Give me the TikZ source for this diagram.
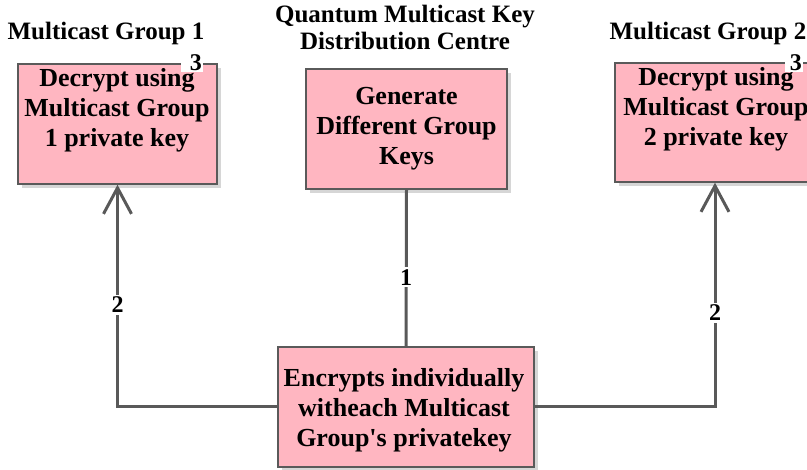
\documentclass[tikz,border=0pt]{standalone}
\usepackage{fontspec}
\newfontfamily\diagfont{Liberation Serif}
\usetikzlibrary{arrows.meta,shadows}
\definecolor{boxfill}{HTML}{FFB6C1}
\definecolor{boxline}{HTML}{5A5A5A}
\definecolor{wire}{HTML}{595959}
\tikzset{
  stagebox/.style={draw=boxline, line width=1.4pt, fill=boxfill,
    drop shadow={shadow xshift=4pt, shadow yshift=-4pt, fill=black!16, opacity=1},
    inner sep=0pt},
  boxtext/.style={font=\diagfont\fontsize{26}{30}\selectfont\bfseries, align=center, inner sep=0pt},
  titletext/.style={font=\diagfont\fontsize{25}{27}\selectfont\bfseries, align=center, inner sep=0pt},
  steplabel/.style={font=\diagfont\fontsize{24}{24}\selectfont\bfseries, fill=white, inner sep=2pt},
  wireline/.style={draw=wire, line width=3pt},
  openhead/.style={-{Straight Barb[length=26pt, width=28pt]}}
}
\begin{document}
\begin{tikzpicture}[x=1pt, y=-1pt]
\useasboundingbox (0,0) rectangle (807,470);
\clip (0,0) rectangle (807,470);

% titles
\node[titletext, anchor=base] (t1) at (106,40) {Multicast Group 1};
\node[titletext, anchor=base] (tq1) at (405,23) {Quantum Multicast Key};
\node[titletext, anchor=base] (tq2) at (405,50) {Distribution Centre};
\node[titletext, anchor=base] (t2) at (708,40) {Multicast Group 2};

% boxes
\node[stagebox, minimum width=199pt, minimum height=120pt] (g1) at (117.5,124) {};
\node[stagebox, minimum width=201pt, minimum height=120pt] (qk) at (406.5,129) {};
\node[stagebox, minimum width=200pt, minimum height=119pt] (g2) at (715,122.5) {};
\node[stagebox, minimum width=256pt, minimum height=120pt] (enc) at (406,407) {};

% box texts
\node[boxtext] (g1t) at (117,110) {Decrypt using\\Multicast Group\\1 private key};
\node[boxtext] (qkt) at (406.5,129) {Generate\\Different Group\\Keys};
\node[boxtext] (g2t) at (716,109) {Decrypt using\\Multicast Group\\2 private key};
\node[boxtext] (enct) at (404,410) {Encrypts individually\\witheach Multicast\\Group's privatekey};

% connectors
\draw[wireline] (qk.south) -- (enc.north)
  node[steplabel, pos=0.56] (l1) {1};
\draw[wireline, openhead] (enc.west) -| (g1.south)
  node[steplabel, pos=0.73] (l2a) {2};
\draw[wireline, openhead] (enc.east) -| (g2.south)
  node[steplabel, pos=0.71] (l2b) {2};

% step numbers on the decrypt boxes
\node[steplabel, anchor=south east, text width=20pt, align=right, inner sep=1pt] (l3a) at (203,72) {3};
\node[steplabel, anchor=south east, text width=16pt, align=right, inner sep=1pt] (l3b) at (803,72) {3};
\end{tikzpicture}
\end{document}
